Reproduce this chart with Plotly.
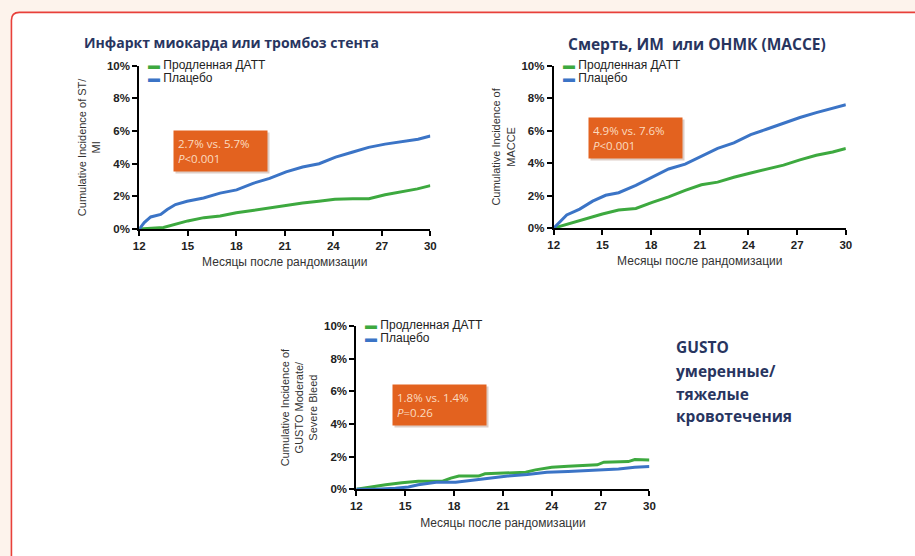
import plotly.graph_objects as go

# ---------------- data ----------------
months_ticks = [12, 15, 18, 21, 24, 27, 30]
pct_ticks = [0, 2, 4, 6, 8, 10]

# Chart 1: MI or stent thrombosis
c1_dapt_x = [12, 13.5, 15, 16, 17, 18, 19, 20, 21.1, 22.1, 23.1, 24.1, 25.2, 26.2, 27.2, 28.2, 29.2, 30]
c1_dapt_y = [0, 0.1, 0.5, 0.7, 0.8, 1.0, 1.14, 1.3, 1.46, 1.6, 1.7, 1.82, 1.86, 1.86, 2.1, 2.26, 2.46, 2.66]
c1_plac_x = [12, 12.31, 12.71, 13.33, 13.73, 14.24, 14.96, 15.98, 17.0, 18.02, 19.04, 20.06, 21.08, 22.1,
             23.12, 24.14, 25.16, 26.18, 27.2, 28.22, 29.24, 30]
c1_plac_y = [0, 0.4, 0.74, 0.9, 1.2, 1.5, 1.7, 1.9, 2.2, 2.4, 2.8, 3.1, 3.5, 3.8, 4.0, 4.4, 4.7, 5.0, 5.2,
             5.34, 5.5, 5.7]

# Chart 2: MACCE
c2_dapt_x = [12, 13.0, 14.0, 15.0, 16.0, 17.06, 18.07, 19.08, 20.1, 21.1, 22.1, 23.1, 24.14, 25.15, 26.16,
             27.17, 28.18, 29.19, 30]
c2_dapt_y = [0, 0.3, 0.57, 0.87, 1.11, 1.21, 1.58, 1.92, 2.32, 2.67, 2.83, 3.13, 3.39, 3.64, 3.88, 4.2, 4.48,
             4.69, 4.9]
c2_plac_x = [12, 12.8, 13.6, 14.4, 15.2, 16.0, 17.06, 18.07, 19.08, 20.1, 21.1, 22.1, 23.1, 24.14, 25.15,
             26.16, 27.17, 28.18, 29.19, 30]
c2_plac_y = [0, 0.81, 1.17, 1.66, 2.02, 2.18, 2.63, 3.13, 3.64, 3.94, 4.44, 4.91, 5.25, 5.76, 6.1, 6.46,
             6.81, 7.11, 7.37, 7.6]

# Chart 3: GUSTO moderate/severe bleeding
c3_dapt_x = [12, 12.8, 13.8, 14.8, 15.8, 17.3, 17.8, 18.3, 19.5, 19.9, 20.9, 22.4, 23.0, 24.0, 25.0, 26.0,
             26.8, 27.2, 28.7, 29.1, 30]
c3_dapt_y = [0, 0.14, 0.28, 0.4, 0.5, 0.5, 0.69, 0.81, 0.81, 0.95, 1.0, 1.05, 1.19, 1.35, 1.41, 1.45, 1.5,
             1.66, 1.7, 1.82, 1.8]
c3_plac_x = [12, 13.2, 14.4, 15.2, 15.8, 16.9, 18.1, 19.3, 20.5, 21.3, 22.5, 23.7, 25.0, 26.6, 28.1, 29.1, 30]
c3_plac_y = [0, 0, 0.06, 0.14, 0.28, 0.44, 0.44, 0.59, 0.75, 0.81, 0.91, 1.05, 1.09, 1.15, 1.25, 1.35, 1.4]

series_names = ["Продленная ДАТТ", "Плацебо"]
titles = ["Инфаркт миокарда или тромбоз стента", "Смерть, ИМ\u00a0 или ОНМК (МАССЕ)"]
y_titles = ["Cumulative Incidence of ST/<br>MI",
            "Cumulative Incidence of<br>MACCE",
            "Cumulative Incidence of<br>GUSTO Moderate/<br>Severe Bleed"]
x_title = "Месяцы после рандомизации"
box_texts = ["2.7% vs. 5.7%<br><i>P</i>&lt;0.001",
             "4.9% vs. 7.6%<br><i>P</i>&lt;0.001",
             "1.8% vs. 1.4%<br><i>P</i>=0.26"]
side_text = ["GUSTO", "умеренные/", "тяжелые", "кровотечения"]

# ---------------- layout helpers ----------------
W, H = 915, 556
def fx(px): return px / W
def fy(py): return 1 - py / H

GREEN = "#3DA93F"
BLUE = "#3B74C6"
NAVY = "#28355F"
AX_FONT = dict(family="Liberation Sans, Arial", size=11.5, color="#222222", weight="bold")
TITLE_FONT = dict(family="Open Sans", size=14, color=NAVY, weight="bold")

# panel pixel geometry: (x0, x1, ytop, ybottom)
panels = [(135, 430, 61, 228), (555, 851, 61, 227), (355, 652, 327, 494)]
data = [(c1_dapt_x, c1_dapt_y, c1_plac_x, c1_plac_y),
        (c2_dapt_x, c2_dapt_y, c2_plac_x, c2_plac_y),
        (c3_dapt_x, c3_dapt_y, c3_plac_x, c3_plac_y)]

fig = go.Figure()
annotations = []
shapes = []

# frame
r = 8
x0f, y0f = 5.5, 6.5
path = (f"M {fx(x0f)},{fy(570)} L {fx(x0f)},{fy(y0f + r)} "
        f"Q {fx(x0f)},{fy(y0f)} {fx(x0f + r)},{fy(y0f)} L {fx(930)},{fy(y0f)} "
        f"L {fx(930)},{fy(570)} Z")
shapes.append(dict(type="path", xref="paper", yref="paper", path=path,
                   fillcolor="white", line=dict(color="#E8403A", width=1.6), layer="below"))

for i, ((px0, px1, pyt, pyb), (dx, dy, bx, by)) in enumerate(zip(panels, data)):
    xa = "x" if i == 0 else f"x{i+1}"
    ya = "y" if i == 0 else f"y{i+1}"
    fig.add_trace(go.Scatter(x=dx, y=dy, mode="lines", name=series_names[0], xaxis=xa, yaxis=ya,
                             line=dict(color=GREEN, width=3), showlegend=False, cliponaxis=False))
    fig.add_trace(go.Scatter(x=bx, y=by, mode="lines", name=series_names[1], xaxis=xa, yaxis=ya,
                             line=dict(color=BLUE, width=3), showlegend=False, cliponaxis=False))
    xkey = "xaxis" if i == 0 else f"xaxis{i+1}"
    ykey = "yaxis" if i == 0 else f"yaxis{i+1}"
    fig.layout[xkey] = dict(domain=[fx(px0), fx(px1)], anchor=ya, range=[12, 30],
                            tickvals=months_ticks, ticktext=[str(m) for m in months_ticks],
                            showline=True, linecolor="black", linewidth=2, ticks="outside",
                            ticklen=5, tickwidth=1.5, tickcolor="black", showgrid=False, zeroline=False,
                            tickfont=AX_FONT,
                            title=dict(text=x_title, standoff=7,
                                       font=dict(family="Liberation Sans, Arial", size=12, color="#333333")))
    fig.layout[ykey] = dict(domain=[fy(pyb), fy(pyt)], anchor=xa, range=[0, 10],
                            tickvals=pct_ticks, ticktext=[f"{p}%" for p in pct_ticks],
                            showline=True, linecolor="black", linewidth=2, ticks="outside",
                            ticklen=5, tickwidth=1.5, tickcolor="black", showgrid=False, zeroline=False,
                            tickfont=AX_FONT,
                            title=dict(text=y_titles[i], standoff=4,
                                       font=dict(family="Liberation Sans, Arial", size=11, color="#333333")))
    # legend (text entries inside panel)
    for j, (nm, col) in enumerate(zip(series_names, [GREEN, BLUE])):
        annotations.append(dict(xref="paper", yref="paper", x=fx(px0 + 7), y=fy(pyt - 1 + 13.5 * j),
                                xanchor="left", yanchor="middle", showarrow=False,
                                text=f"<span style='color:{col}'>\u25ac</span> {nm}",
                                font=dict(family="Liberation Sans, Arial", size=12, color="#222222")))

# orange boxes (left, top) in px
boxes = [(169, 127), (590, 113), (391, 386)]
for (bx0, by0), t in zip(boxes, box_texts):
    annotations.append(dict(xref="paper", yref="paper", x=fx(bx0 + 2), y=fy(by0 + 2), xanchor="left",
                            yanchor="top", showarrow=False, text=" ", width=85, height=32, borderpad=4,
                            bgcolor="rgba(120,60,30,0.25)"))
    annotations.append(dict(xref="paper", yref="paper", x=fx(bx0), y=fy(by0), xanchor="left", yanchor="top",
                            showarrow=False, text=t, align="left", valign="middle", width=85, height=32,
                            borderpad=4, bgcolor="#E3621F",
                            font=dict(family="Open Sans", size=11.5, color="#FBDCC0")))

# chart titles
annotations.append(dict(xref="paper", yref="paper", x=fx(229), y=fy(37), xanchor="center", yanchor="middle",
                        showarrow=False, text=titles[0], font=TITLE_FONT))
annotations.append(dict(xref="paper", yref="paper", x=fx(700), y=fy(39), xanchor="center", yanchor="middle",
                        showarrow=False, text=titles[1], font=dict(TITLE_FONT, size=15.5)))
for k, (t, yy) in enumerate(zip(side_text, [349, 373, 397, 419])):
    annotations.append(dict(xref="paper", yref="paper", x=fx(677), y=fy(yy), xanchor="left", yanchor="middle",
                            showarrow=False, text=t,
                            font=dict(family="Open Sans", size=15.5, color=NAVY, weight="bold")))

fig.update_layout(width=W, height=H, margin=dict(l=0, r=0, t=0, b=0),
                  paper_bgcolor="#FDF3EC", plot_bgcolor="rgba(0,0,0,0)",
                  showlegend=False, annotations=annotations, shapes=shapes)

fig.write_html("out.html", config={"displayModeBar": False},
               post_script="document.body.style.margin='0';")
